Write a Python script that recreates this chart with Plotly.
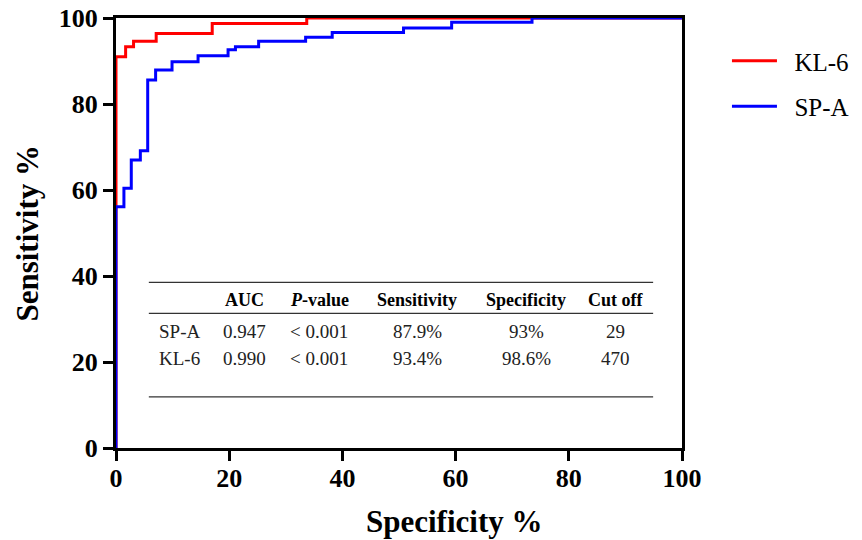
import plotly.graph_objects as go

# ROC curve corner points: 100 - specificity (%) vs sensitivity (%)
kl6_x = [0, 0, 1.7, 3.1, 7.1, 17.0, 33.7, 100]
kl6_y = [0, 91.0, 93.3, 94.6, 96.4, 98.7, 100, 100]

spa_x = [0, 0, 1.4, 2.7, 4.3, 5.6, 7.0, 9.9, 14.5, 19.8, 21.1, 25.2, 33.5, 38.2, 50.8, 59.3, 73.5, 100]
spa_y = [0, 56.1, 60.4, 67.0, 69.1, 85.6, 87.9, 89.8, 91.2, 92.6, 93.3, 94.6, 95.5, 96.6, 97.7, 99.0, 100, 100]

# summary table
table_header = ["", "<b>AUC</b>", "<b><i>P</i>-value</b>", "<b>Sensitivity</b>", "<b>Specificity</b>", "<b>Cut off</b>"]
table_rows = [
    ["SP-A", "0.947", "< 0.001", "87.9%", "93%", "29"],
    ["KL-6", "0.990", "< 0.001", "93.4%", "98.6%", "470"],
]
col_x = [11.2, 22.7, 35.9, 53.2, 72.5, 88.2]
row_y = [27.2, 20.8]
header_y = 34.4
rule_y = [38.5, 31.3, 11.9]
rule_x0, rule_x1 = 5.8, 94.9

FONT = "Liberation Serif, Times New Roman, serif"

# the page body adds an 8px offset, so the figure is drawn 8px smaller
OFF = 8
W, H = 862 - OFF, 540 - OFF
L, T = 115.5 - OFF, 18 - OFF
R = W - (682 - OFF)
B = H - (448 - OFF)
PW, PH = W - L - R, H - T - B


def px_x(px):
    return (px - OFF - L) / PW


def px_y(py):
    return (T + PH - (py - OFF)) / PH


fig = go.Figure()
fig.add_trace(go.Scatter(x=kl6_x, y=kl6_y, mode="lines", line=dict(color="#ff0000", width=3, shape="hv"),
                         name="\u00a0\u00a0KL-6", legendgroup="a"))
fig.add_trace(go.Scatter(x=spa_x, y=spa_y, mode="lines", line=dict(color="#0000ff", width=3, shape="hv"),
                         name="\u00a0\u00a0SP-A", legendgroup="b"))

for yv in rule_y:
    fig.add_shape(type="line", xref="x", yref="y", x0=rule_x0, x1=rule_x1, y0=yv, y1=yv,
                  line=dict(color="#333333", width=1.3))

for i, h in enumerate(table_header):
    if h:
        fig.add_annotation(x=col_x[i], y=header_y, xref="x", yref="y", text=h, showarrow=False,
                           xanchor="center", yanchor="middle",
                           font=dict(family=FONT, size=18, color="black"))
for r, row in enumerate(table_rows):
    for i, v in enumerate(row):
        fig.add_annotation(x=col_x[i], y=row_y[r], xref="x", yref="y", text=v, showarrow=False,
                           xanchor="center", yanchor="middle",
                           font=dict(family=FONT, size=19, color="#222222"))

fig.add_annotation(x=px_x(454), y=px_y(521), xref="paper", yref="paper",
                   xanchor="center", yanchor="middle",
                   text="<b>Specificity %</b>", showarrow=False,
                   font=dict(family=FONT, size=31, color="black"))
fig.add_annotation(x=px_x(26), y=px_y(233), xref="paper", yref="paper", textangle=-90,
                   xanchor="center", yanchor="middle",
                   text="<b>Sensitivity %</b>", showarrow=False,
                   font=dict(family=FONT, size=31, color="black"))

fig.update_layout(
    width=W, height=H,
    margin=dict(l=L, r=R, t=T, b=B, autoexpand=False),
    plot_bgcolor="white", paper_bgcolor="white",
    showlegend=True,
    legend=dict(x=px_x(727), y=px_y(38), xanchor="left", yanchor="top", traceorder="grouped",
                tracegroupgap=10, itemwidth=45, font=dict(family=FONT, size=25, color="black"),
                bgcolor="rgba(0,0,0,0)"),
    font=dict(family=FONT, color="black"),
)

axis_common = dict(range=[0, 100], tickvals=[0, 20, 40, 60, 80, 100], showgrid=False, zeroline=False,
                   showline=True, linecolor="black", linewidth=3, mirror=True, automargin=False,
                   ticks="outside", ticklen=10, tickwidth=3, tickcolor="black", ticklabeloverflow="allow",
                   tickfont=dict(family=FONT, size=26, color="black", weight="bold"))
fig.update_xaxes(**axis_common, ticklabelstandoff=-5)
fig.update_yaxes(**axis_common)

fig.write_html("out.html")
